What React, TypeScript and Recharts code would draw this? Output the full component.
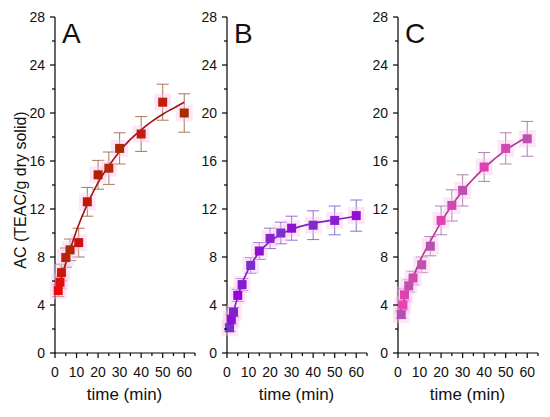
import React from "react";
import { ScatterChart, Scatter, XAxis, YAxis, ErrorBar, Cell } from "recharts";

// measured times (min), antioxidant capacity and SD for each panel
const timeA = [1.5, 2.3, 3, 5, 7, 11, 15, 20, 25, 30, 40, 50, 60];
const acA = [5.2, 5.9, 6.7, 7.95, 8.6, 9.2, 12.6, 14.85, 15.4, 17.05, 18.25, 20.9, 20.0];
const sdA = [0.5, 0.5, 0.7, 0.8, 0.9, 1.2, 1.2, 1.2, 1.35, 1.3, 1.45, 1.5, 1.6];

const timeB = [1.2, 2, 3, 5, 7, 11, 15, 20, 25, 30, 40, 50, 60];
const acB = [2.1, 2.8, 3.4, 4.8, 5.7, 7.3, 8.5, 9.55, 10.0, 10.4, 10.65, 11.05, 11.45];
const sdB = [0.3, 0.4, 0.4, 0.5, 0.5, 0.65, 0.7, 0.85, 0.9, 1.0, 1.2, 1.2, 1.3];

const timeC = [1.5, 2.3, 3, 5, 7, 11, 15, 20, 25, 30, 40, 50, 60];
const acC = [3.2, 4.0, 4.85, 5.6, 6.25, 7.35, 8.9, 11.05, 12.3, 13.55, 15.5, 17.05, 17.85];
const sdC = [0.3, 0.4, 0.5, 0.5, 0.55, 0.65, 0.8, 1.2, 1.3, 1.3, 1.2, 1.3, 1.45];

// fitted curves
const fitTimeA = [1, 3, 5, 7, 10, 15, 20, 25, 30, 35, 40, 45, 50, 55, 60];
const fitA = [5.0, 6.3, 7.5, 8.6, 10.2, 12.4, 14.2, 15.6, 16.8, 17.8, 18.6, 19.3, 19.9, 20.4, 20.9];
const fitTimeB = [1, 2, 3, 5, 7, 10, 15, 20, 25, 30, 40, 50, 60];
const fitB = [2.0, 2.7, 3.4, 4.7, 5.8, 7.0, 8.4, 9.3, 9.9, 10.3, 10.8, 11.1, 11.4];
const fitTimeC = [1, 3, 5, 7, 10, 15, 20, 25, 30, 40, 50, 60];
const fitC = [3.4, 4.5, 5.4, 6.3, 7.6, 9.3, 10.9, 12.3, 13.5, 15.4, 16.9, 18.0];

const panelLetters = ["A", "B", "C"];
const xTicks = [0, 5, 10, 15, 20, 25, 30, 35, 40, 45, 50, 55, 60, 65];
const yTicks = [0, 2, 4, 6, 8, 10, 12, 14, 16, 18, 20, 22, 24, 26, 28];

const colorsA = ["#e80a0a", "#dc1010", "#c81a0a", "#b82205", "#b02800", "#c81410", "#c01808", "#b02000", "#b82808", "#ad2a00", "#c41a10", "#c41c08", "#a82c00"];
const colorsB = ["#7a30d0", "#9010d8", "#8020d0", "#9a00d8", "#8a18d0", "#7a30d0", "#9010d0", "#8a20d0", "#7a30d0", "#9010d0", "#8428d0", "#8a20d0", "#9010d0"];
const colorsC = ["#b050b0", "#f040b0", "#e040b0", "#c050b0", "#d048b0", "#c050b0", "#b850b0", "#e040b0", "#d048b0", "#c050b0", "#e040b0", "#d048b0", "#c050b0"];

const TICK_SIZE = 5;
const TICK_MARGIN = 5;
const X_TICK_MARGIN = 8;

const zip = (t: number[], v: number[], e?: number[]) =>
  t.map((x, i) => ({ t: x, v: v[i], e: e ? e[i] : 0 }));

const panels = [
  { left: 0, points: zip(timeA, acA, sdA), fit: zip(fitTimeA, fitA), colors: colorsA, line: "#a01414", bar: "#a87858" },
  { left: 172, points: zip(timeB, acB, sdB), fit: zip(fitTimeB, fitB), colors: colorsB, line: "#8020c8", bar: "#9070d0" },
  { left: 343, points: zip(timeC, acC, sdC), fit: zip(fitTimeC, fitC), colors: colorsC, line: "#b03890", bar: "#b080b0" },
];

const FONT = "'Liberation Sans', Arial, sans-serif";

function YTick(props: any) {
  const { x, y, payload } = props;
  const axisX = x + TICK_SIZE + TICK_MARGIN;
  const major = payload.value % 4 === 0;
  return (
    <g>
      <line x1={axisX - (major ? 5 : 3)} x2={axisX} y1={y} y2={y} stroke="#000" strokeWidth={1.2} />
      {major && (
        <text x={x} y={y} dy={5} textAnchor="end" fontSize={14} fill="#111" fontFamily={FONT}>
          {payload.value}
        </text>
      )}
    </g>
  );
}

function XTick(props: any) {
  const { x, y, payload } = props;
  const axisY = y - TICK_SIZE - X_TICK_MARGIN;
  const major = payload.value % 10 === 0;
  return (
    <g>
      <line x1={x} x2={x} y1={axisY} y2={axisY + (major ? 5 : 3)} stroke="#000" strokeWidth={1.2} />
      {major && (
        <text x={x} y={y} dy={11} textAnchor="middle" fontSize={14} fill="#111" fontFamily={FONT}>
          {payload.value}
        </text>
      )}
    </g>
  );
}

const Halo = (props: any) => {
  const { cx, cy } = props;
  return <rect x={cx - 8.5} y={cy - 8.5} width={17} height={17} fill="#f8c4ee" opacity={0.4} />;
};

const Square = (props: any) => {
  const { cx, cy, fill } = props;
  return <rect x={cx - 4.5} y={cy - 4.5} width={9} height={9} fill={fill} />;
};

const Nothing = () => <g />;

export default function App() {
  return (
    <div style={{ position: "absolute", left: 0, top: 0, width: 550, height: 417, background: "#fff", fontFamily: FONT }}>
      {panels.map((p, i) => (
        <div key={i} style={{ position: "absolute", left: p.left, top: 0 }}>
          <ScatterChart width={200} height={417} margin={{ top: 17, right: 5, bottom: 14, left: 0 }}>
            <XAxis
              type="number"
              dataKey="t"
              domain={[0, 65]}
              ticks={xTicks}
              interval={0}
              tickSize={TICK_SIZE}
              tickMargin={X_TICK_MARGIN}
              tickLine={false}
              tick={<XTick />}
              height={50}
              axisLine={{ stroke: "#000", strokeWidth: 1.2 }}
            />
            <YAxis
              type="number"
              dataKey="v"
              domain={[0, 28]}
              ticks={yTicks}
              interval={0}
              width={55}
              tickSize={TICK_SIZE}
              tickMargin={TICK_MARGIN}
              tickLine={false}
              tick={<YTick />}
              axisLine={{ stroke: "#000", strokeWidth: 1.2 }}
            />
            <Scatter data={p.points} shape={Halo} isAnimationActive={false} />
            <Scatter
              data={p.fit}
              shape={Nothing}
              line={{ stroke: p.line, strokeWidth: 1.6 }}
              lineJointType="monotoneX"
              isAnimationActive={false}
            />
            <Scatter data={p.points} shape={Square} isAnimationActive={false}>
              <ErrorBar dataKey="e" direction="y" width={6} stroke={p.bar} strokeWidth={1} />
              {p.points.map((_, j) => (
                <Cell key={j} fill={p.colors[j]} />
              ))}
            </Scatter>
          </ScatterChart>
        </div>
      ))}
      <svg width={550} height={417} style={{ position: "absolute", left: 0, top: 0, pointerEvents: "none" }}>
        <text
          x={26}
          y={190}
          transform="rotate(-90 26 190)"
          textAnchor="middle"
          fontSize={16}
          fontWeight={400}
          fill="#111"
          fontFamily={FONT}
        >
          AC (TEAC/g dry solid)
        </text>
        {panels.map((p) => (
          <text key={p.left} x={p.left + 124.5} y={400} textAnchor="middle" fontSize={17} fontWeight={400} fill="#111" fontFamily={FONT}>
            time (min)
          </text>
        ))}
        {panelLetters.map((l, i) => (
          <text key={l} x={panels[i].left + 62} y={43} fontSize={28} fontWeight={400} fill="#111" fontFamily={FONT}>
            {l}
          </text>
        ))}
      </svg>
    </div>
  );
}
